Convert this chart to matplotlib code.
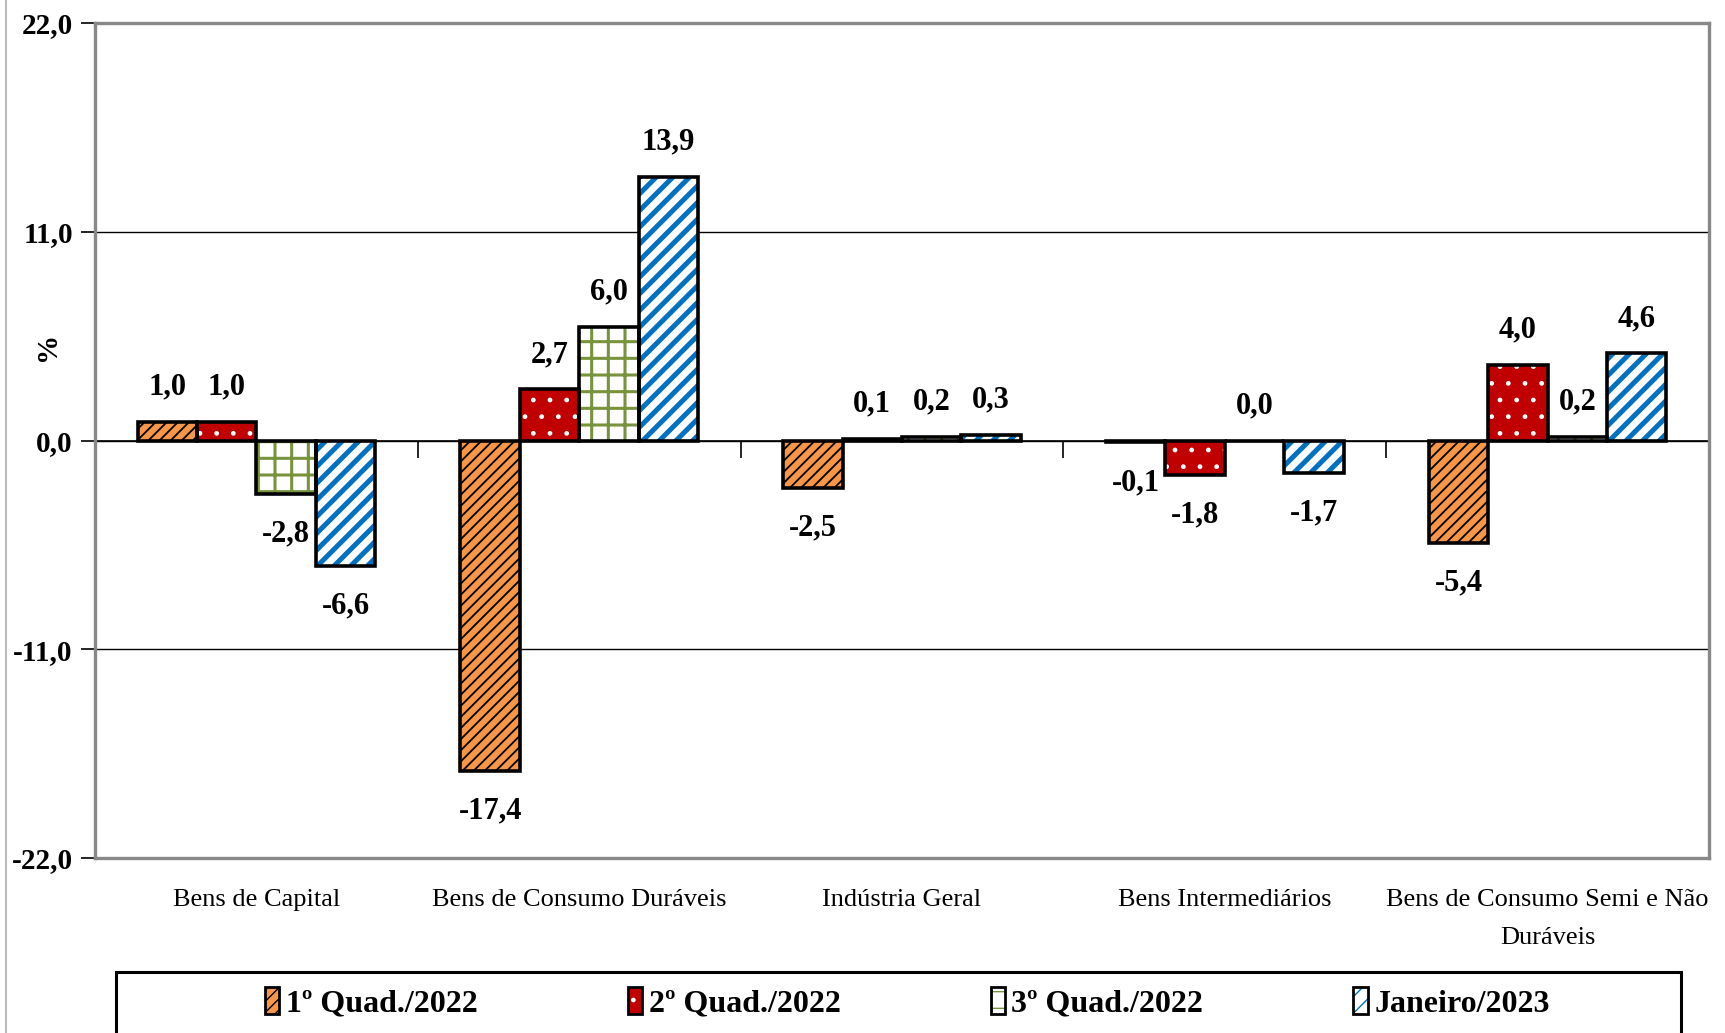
import numpy as np
import matplotlib
matplotlib.use('Agg')
import matplotlib.pyplot as plt
from matplotlib.patches import Patch, Rectangle
from matplotlib.lines import Line2D
from matplotlib.markers import TICKDOWN
from matplotlib.ticker import FuncFormatter

plt.rcParams['font.family'] = ['Liberation Serif', 'DejaVu Serif']

##################################################################
# Data
##################################################################
categories = ['Bens de Capital', 'Bens de Consumo Duráveis', 'Indústria Geral',
              'Bens Intermediários', 'Bens de Consumo Semi e Não\nDuráveis']
series_names = ['1º Quad./2022', '2º Quad./2022', '3º Quad./2022', 'Janeiro/2023']
q1_2022 = [1.0, -17.4, -2.5, -0.1, -5.4]
q2_2022 = [1.0, 2.7, 0.1, -1.8, 4.0]
q3_2022 = [-2.8, 6.0, 0.2, 0.0, 0.2]
jan_2023 = [-6.6, 13.9, 0.3, -1.7, 4.6]
series_values = [q1_2022, q2_2022, q3_2022, jan_2023]
y_ticks = [-22, -11, 0, 11, 22]

# fill colour, hatch, hatch colour, hatch line width
styles = [('#F79646', '///', 'black', 1.3),
          ('#C00000', '.', 'white', 1.0),
          ('white', '+', '#77933C', 2.2),
          ('white', '//', '#0070C0', 3.6)]

def fmt(v):
    return f'{v:.1f}'.replace('.', ',')

##################################################################
# Plot figure
##################################################################
fig = plt.figure(figsize=(17.25, 10.33), dpi=100)
ax = fig.add_axes([0.0551, 0.1694, 0.9356, 0.8083])

x = np.arange(len(categories))
width = 0.184
offsets = (np.arange(len(series_values)) - 1.5) * width

handles = []
for vals, off, (fc, hatch, hc, hlw) in zip(series_values, offsets, styles):
    with plt.rc_context({'hatch.linewidth': hlw}):
        ax.bar(x + off, vals, width, color=fc, hatch=hatch, edgecolor=hc,
               linewidth=0, zorder=3)
    ax.bar(x + off, vals, width, fill=False, edgecolor='black', linewidth=2.6, zorder=4)
    for xi, v in zip(x + off, vals):
        dy = 25 if v >= 0 else -29
        ax.annotate(fmt(v), (xi, v), xytext=(0, dy), textcoords='offset points',
                    ha='center', va='center', fontsize=22, fontweight='bold')
    with plt.rc_context({'hatch.linewidth': hlw}):
        h1 = Patch(facecolor=fc, hatch=hatch, edgecolor=hc, linewidth=0)
    h2 = Patch(fill=False, edgecolor='black', linewidth=2)
    handles.append((h1, h2))

# zero line with category separators
ax.axhline(0, color='black', lw=1.2, zorder=2)
ax.plot(x[:-1] + 0.5, np.zeros(len(x) - 1), ls='none', marker=TICKDOWN,
        markersize=12, color='black', mew=1.2, zorder=2)

ax.set_xlim(-0.5, len(categories) - 0.5)
ax.set_ylim(y_ticks[0], y_ticks[-1])
ax.set_yticks(y_ticks)
ax.yaxis.set_major_formatter(FuncFormatter(lambda v, p: fmt(v)))
ax.grid(axis='y', color='black', lw=1)
ax.set_axisbelow(True)
for lab in ax.get_yticklabels():
    lab.set_fontweight('bold')
ax.tick_params(axis='y', labelsize=21, length=10, width=1.2, pad=6)

ax.set_xticks(x)
ax.set_xticklabels(categories, fontsize=19, linespacing=1.95)
ax.tick_params(axis='x', length=0, pad=22)

for s in ax.spines.values():
    s.set_color('#888888')
    s.set_linewidth(2.4)

ax.set_ylabel('%', fontsize=21, fontweight='bold')
ax.yaxis.set_label_coords(-0.021, 0.613)

leg = fig.legend(handles, series_names, loc='center', ncol=4,
                 bbox_to_anchor=(0.526, 0.029), frameon=False,
                 handlelength=0.45, handleheight=0.9, handletextpad=0.2,
                 columnspacing=4.7, prop={'size': 23, 'weight': 'bold'})

fig.add_artist(Rectangle((116 / 1725, -0.05), (1681 - 116) / 1725, 0.109,
                         transform=fig.transFigure, fill=False,
                         edgecolor='black', lw=2.2))
fig.add_artist(Line2D([6 / 1725, 6 / 1725], [0, 1], color='#BBBBBB', lw=1.5))

fig.savefig('out.png', dpi=100)
